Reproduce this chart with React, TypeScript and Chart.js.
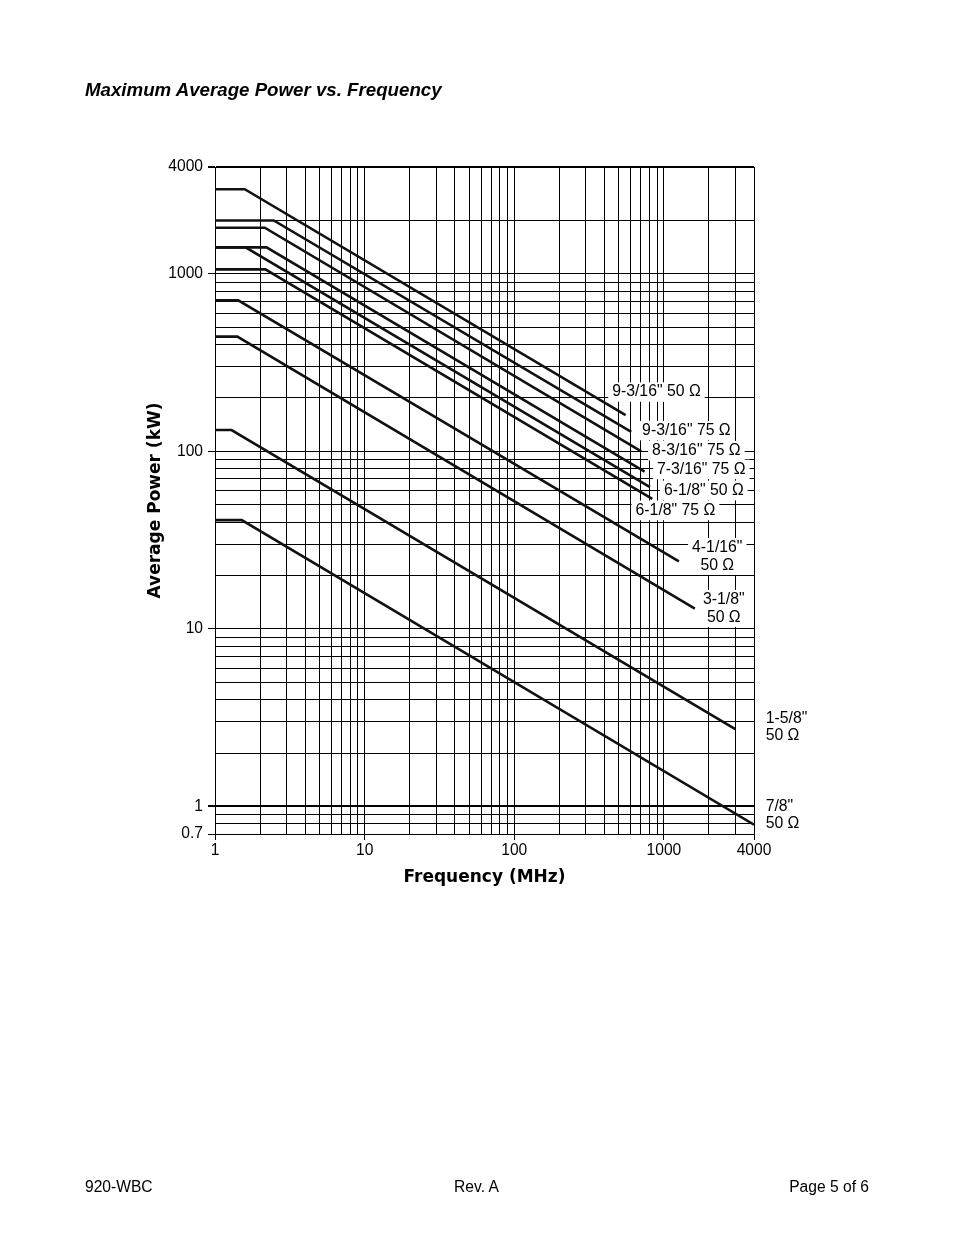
import React, { useEffect, useRef } from 'react';
import { Chart, registerables } from 'chart.js';

Chart.register(...registerables);

// ---- Data ----
const seriesNames = [
  '9-3/16" 50 Ω',
  '9-3/16" 75 Ω',
  '8-3/16" 75 Ω',
  '7-3/16" 75 Ω',
  '6-1/8" 50 Ω',
  '6-1/8" 75 Ω',
  '4-1/16" 50 Ω',
  '3-1/8" 50 Ω',
  '1-5/8" 50 Ω',
  '7/8" 50 Ω',
];
// power level of the flat (low-frequency) part, kW
const flatPower = [3000, 2000, 1820, 1410, 1410, 1060, 710, 443, 132, 41];
// frequency where the curve starts to fall, MHz
const breakFreq = [1.58, 2.47, 2.15, 2.21, 1.6, 2.17, 1.43, 1.41, 1.29, 1.51];
// last point of each curve
const endFreq = [555, 605, 706, 743, 807, 836, 1259, 1610, 3000, 4000];
const endPower = [160, 129, 100, 77, 63, 54, 24, 13, 2.73, 0.79];

// grid / tick values
const xGridValues = [
  1, 2, 3, 4, 5, 6, 7, 8, 9,
  10, 20, 30, 40, 50, 60, 70, 80, 90,
  100, 200, 300, 400, 500, 600, 700, 800, 900,
  1000, 2000, 3000, 4000,
];
const yGridValues = [
  0.7, 0.8, 0.9,
  1, 2, 3, 4, 5, 6, 7, 8, 9,
  10, 20, 30, 40, 50, 60, 70, 80, 90,
  100, 200, 300, 400, 500, 600, 700, 800, 900,
  1000, 2000, 4000,
];
const xTickLabels = [1, 10, 100, 1000, 4000];
const yTickLabels = [0.7, 1, 10, 100, 1000, 4000];

// curve annotations (anchored in data units)
const labelLines = [
  ['9-3/16" 50 Ω'],
  ['9-3/16" 75 Ω'],
  ['8-3/16" 75 Ω'],
  ['7-3/16" 75 Ω'],
  ['6-1/8" 50 Ω'],
  ['6-1/8" 75 Ω'],
  ['4-1/16"', '50 Ω'],
  ['3-1/8"', '50 Ω'],
  ['1-5/8"', '50 Ω'],
  ['7/8"', '50 Ω'],
];
const labelFreq = [891, 1413, 1648, 1778, 1848, 1194, 2273, 2512, 4786, 4786];
const labelPower = [216, 131, 101, 79.2, 60.3, 46.5, 25.6, 13.05, 2.8, 0.893];
const labelAlign = ['center', 'center', 'center', 'center', 'center', 'center', 'center', 'center', 'left', 'left'];

const LABEL_FONT = '15.8px "Liberation Sans", Arial, sans-serif';

const curveLabelPlugin = {
  id: 'curveLabels',
  afterDatasetsDraw(chart: any) {
    const { ctx } = chart;
    const xs = chart.scales.x;
    const ys = chart.scales.y;
    const lh = 17.5;
    ctx.save();
    ctx.font = LABEL_FONT;
    ctx.textBaseline = 'middle';
    labelLines.forEach((lines, i) => {
      const px = xs.getPixelForValue(labelFreq[i]);
      const py = ys.getPixelForValue(labelPower[i]);
      const widths = lines.map((t) => ctx.measureText(t).width);
      const w = Math.max(...widths);
      const h = lines.length * lh;
      const isLeft = labelAlign[i] === 'left';
      const left = isLeft ? px : px - w / 2;
      ctx.fillStyle = '#ffffff';
      ctx.fillRect(left - 4, py - h / 2 - 1, w + 8, h + 2);
      ctx.fillStyle = '#000000';
      ctx.textAlign = isLeft ? 'left' : 'center';
      lines.forEach((t, j) => {
        ctx.fillText(t, px, py - h / 2 + lh * (j + 0.5));
      });
    });
    ctx.restore();
  },
};

const tickFont = { family: '"Liberation Sans", Arial, sans-serif', size: 15.6 };
const titleFont = { family: '"DejaVu Sans", sans-serif', size: 17, weight: 'bold' as const };

export default function App() {
  const canvasRef = useRef<HTMLCanvasElement | null>(null);

  useEffect(() => {
    if (!canvasRef.current) return;
    const datasets = seriesNames.map((name, i) => ({
      label: name,
      data: [
        { x: 1, y: flatPower[i] },
        { x: breakFreq[i], y: flatPower[i] },
        { x: endFreq[i], y: endPower[i] },
      ],
      borderColor: '#111111',
      backgroundColor: '#111111',
      borderWidth: 2.6,
      pointRadius: 0,
      tension: 0,
      fill: false,
    }));

    const chart = new Chart(canvasRef.current, {
      type: 'line',
      data: { datasets },
      plugins: [curveLabelPlugin],
      options: {
        animation: false,
        responsive: false,
        maintainAspectRatio: false,
        layout: { padding: { top: 167, right: 200, left: 0, bottom: 1235 - 834 - 60 } },
        plugins: {
          legend: { display: false },
          tooltip: { enabled: false },
          title: { display: false },
        },
        scales: {
          x: {
            type: 'logarithmic',
            position: 'bottom',
            min: 1,
            max: 4000,
            afterBuildTicks: (s: any) => {
              s.ticks = xGridValues.map((v) => ({ value: v }));
            },
            afterFit: (s: any) => {
              s.height = 60;
            },
            ticks: {
              autoSkip: false,
              maxRotation: 0,
              minRotation: 0,
              padding: 1,
              color: '#000',
              font: tickFont,
              callback: (v: any) => (xTickLabels.includes(Number(v)) ? String(v) : ''),
            },
            grid: {
              color: '#000',
              lineWidth: 1,
              tickLength: 6,
              tickColor: (c: any) =>
                c.tick && xTickLabels.includes(c.tick.value) ? '#000' : 'rgba(0,0,0,0)',
            },
            border: { color: '#000', width: 1 },
            title: {
              display: true,
              text: 'Frequency (MHz)',
              color: '#000',
              font: titleFont,
              padding: { top: 0, bottom: 5.8 },
            },
          },
          y: {
            type: 'logarithmic',
            position: 'left',
            min: 0.7,
            max: 4000,
            afterBuildTicks: (s: any) => {
              s.ticks = yGridValues.map((v) => ({ value: v }));
            },
            afterFit: (s: any) => {
              s.width = 215;
            },
            ticks: {
              autoSkip: false,
              padding: 5,
              color: '#000',
              font: tickFont,
              callback: (v: any) => (yTickLabels.includes(Number(v)) ? String(v) : ''),
            },
            grid: {
              color: '#000',
              lineWidth: (c: any) =>
                c.tick && (c.tick.value === 1 || c.tick.value === 4000) ? 2 : 1,
              tickLength: 7,
              tickColor: (c: any) =>
                c.tick && yTickLabels.includes(c.tick.value) ? '#000' : 'rgba(0,0,0,0)',
            },
            border: { color: '#000', width: 1 },
            title: {
              display: true,
              text: 'Average Power (kW)',
              color: '#000',
              font: titleFont,
              padding: { top: 145.8, bottom: 0 },
            },
          },
        },
      } as any,
    });
    return () => chart.destroy();
  }, []);

  const textBase: React.CSSProperties = {
    position: 'absolute',
    fontFamily: '"Liberation Sans", Arial, sans-serif',
    color: '#000',
    lineHeight: 1,
    whiteSpace: 'nowrap',
  };

  return (
    <div style={{ position: 'absolute', left: 0, top: 0, width: 954, height: 1235, background: '#fff' }}>
      <canvas
        ref={canvasRef}
        width={954}
        height={1235}
        style={{ position: 'absolute', left: 0, top: 0, width: 954, height: 1235 }}
      />
      <div style={{ ...textBase, left: 85, top: 80.8, fontSize: 18.7, fontWeight: 'bold', fontStyle: 'italic' }}>
        Maximum Average Power vs. Frequency
      </div>
      <div style={{ ...textBase, left: 85, top: 1179.3, fontSize: 15.6 }}>920-WBC</div>
      <div style={{ ...textBase, left: 476.5, top: 1179.3, fontSize: 15.6, transform: 'translateX(-50%)' }}>Rev. A</div>
      <div style={{ ...textBase, right: 85, top: 1179.3, fontSize: 15.6 }}>Page 5 of 6</div>
    </div>
  );
}
